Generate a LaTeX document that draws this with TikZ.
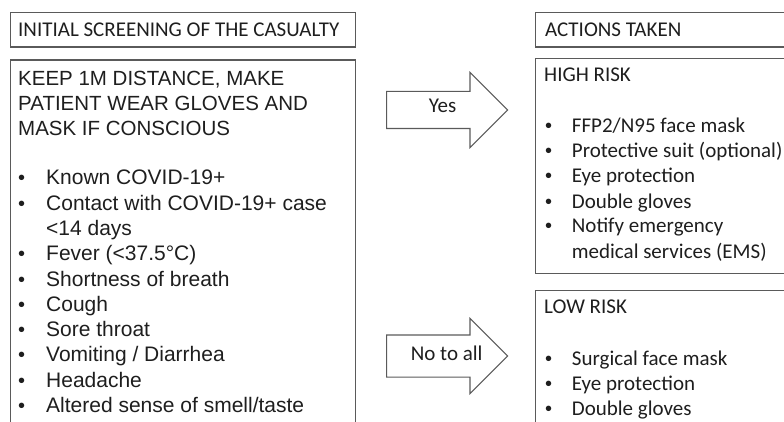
\documentclass[tikz,border=0pt]{standalone}
\usepackage{fontspec}
\setmainfont{Carlito}
\newfontfamily\arialfont{Liberation Sans}
\usetikzlibrary{shapes.arrows}
\definecolor{boxgray}{HTML}{5A5A5A}
\definecolor{inkgray}{HTML}{1E1E1E}

\begin{document}
\begin{tikzpicture}[x=1pt,y=-1pt]
                \tikzset{BoxStyle/.style = {draw=boxgray, line width=1.1pt, rectangle, anchor=north west, inner sep=0pt}}
                \tikzset{LabelStyle/.style = {anchor=base west, inner sep=0pt, text=inkgray, font=\fontsize{21}{21}\selectfont}}
                \tikzset{ArialStyle/.style = {LabelStyle, font=\arialfont\fontsize{21}{21}\selectfont}}
                \tikzset{DotStyle/.style = {ArialStyle, font=\arialfont\fontsize{20}{20}\selectfont}}
                \tikzset{ArrowStyle/.style = {single arrow, draw=boxgray, line width=1.1pt, anchor=tail,
                        minimum height=121pt, text height=10pt, text depth=3pt, inner xsep=0pt}}
                \useasboundingbox (0,0) rectangle (784,422);
                \clip (0,0) rectangle (784,422);
                % boxes
                \node[BoxStyle, minimum width=345pt, minimum height=34.5pt] (Screen) at (9.5,12) {};
                \node[BoxStyle, minimum width=345pt, minimum height=380pt] (Symptoms) at (9.5,59.5) {};
                \node[BoxStyle, minimum width=280pt, minimum height=34.5pt] (Actions) at (535,12) {};
                \node[BoxStyle, minimum width=280pt, minimum height=215pt] (High) at (535,58) {};
                \node[BoxStyle, minimum width=280pt, minimum height=160pt] (Low) at (535,290) {};
                % arrows
                \node[ArrowStyle, inner ysep=11.5pt, single arrow head extend=19pt] (YesArrow) at (386,110) {};
                \node[ArrowStyle, inner ysep=14pt, single arrow head extend=16.5pt] (NoArrow) at (386,356) {};
                \node[LabelStyle, anchor=base] (Yes) at (442.5,113) {Yes};
                \node[LabelStyle, anchor=base] (No) at (446.7,360.7) {No to all};
                % left side
                \node[LabelStyle] (T1) at (18,36.5) {INITIAL SCREENING OF THE CASUALTY};
                \node[ArialStyle, font=\arialfont\fontsize{20.5}{20.5}\selectfont] (K1) at (18,86) {KEEP 1M DISTANCE, MAKE};
                \node[ArialStyle, font=\arialfont\fontsize{20.5}{20.5}\selectfont] (K2) at (18,110.7) {PATIENT WEAR GLOVES AND};
                \node[ArialStyle, font=\arialfont\fontsize{20.5}{20.5}\selectfont] (K3) at (18,135.4) {MASK IF CONSCIOUS};
                \node[DotStyle] (B1) at (18,185) {\textbullet};
                \node[ArialStyle] (S1) at (46,185) {Known COVID-19+};
                \node[DotStyle] (B2) at (18,210.25) {\textbullet};
                \node[ArialStyle] (S2) at (46,210.25) {Contact with COVID-19+ case};
                \node[ArialStyle] (S2b) at (46,235.5) {<14 days};
                \node[DotStyle] (B3) at (18,260.75) {\textbullet};
                \node[ArialStyle] (S3) at (46,260.75) {Fever (<37.5°C)};
                \node[DotStyle] (B4) at (18,286) {\textbullet};
                \node[ArialStyle] (S4) at (46,286) {Shortness of breath};
                \node[DotStyle] (B5) at (18,311.25) {\textbullet};
                \node[ArialStyle] (S5) at (46,311.25) {Cough};
                \node[DotStyle] (B6) at (18,336.5) {\textbullet};
                \node[ArialStyle] (S6) at (46,336.5) {Sore throat};
                \node[DotStyle] (B7) at (18,361.75) {\textbullet};
                \node[ArialStyle] (S7) at (46,361.75) {Vomiting / Diarrhea};
                \node[DotStyle] (B8) at (18,387) {\textbullet};
                \node[ArialStyle] (S8) at (46,387) {Headache};
                \node[DotStyle] (B9) at (18,412.25) {\textbullet};
                \node[ArialStyle] (S9) at (46,412.25) {Altered sense of smell/taste};
                % right side
                \node[LabelStyle] (T2) at (545,36.5) {ACTIONS TAKEN};
                \node[LabelStyle] (H0) at (544,81.5) {HIGH RISK};
                \node[DotStyle] (HB1) at (545,133) {\textbullet};
                \node[LabelStyle] (H1) at (571.7,133) {FFP2/N95 face mask};
                \node[DotStyle] (HB2) at (545,158) {\textbullet};
                \node[LabelStyle] (H2) at (571.7,158) {Protective suit (optional)};
                \node[DotStyle] (HB3) at (545,183) {\textbullet};
                \node[LabelStyle] (H3) at (571.7,183) {Eye protection};
                \node[DotStyle] (HB4) at (545,208) {\textbullet};
                \node[LabelStyle] (H4) at (571.7,208) {Double gloves};
                \node[DotStyle] (HB5) at (545,233) {\textbullet};
                \node[LabelStyle] (H5) at (571.7,233) {Notify emergency};
                \node[LabelStyle] (H5b) at (571.7,258) {medical services (EMS)};
                \node[LabelStyle] (L0) at (544,313) {LOW RISK};
                \node[DotStyle] (LB1) at (545,365) {\textbullet};
                \node[LabelStyle] (L1) at (571.7,365) {Surgical face mask};
                \node[DotStyle] (LB2) at (545,390) {\textbullet};
                \node[LabelStyle] (L2) at (571.7,390) {Eye protection};
                \node[DotStyle] (LB3) at (545,415) {\textbullet};
                \node[LabelStyle] (L3) at (571.7,415) {Double gloves};
\end{tikzpicture}
\end{document}
